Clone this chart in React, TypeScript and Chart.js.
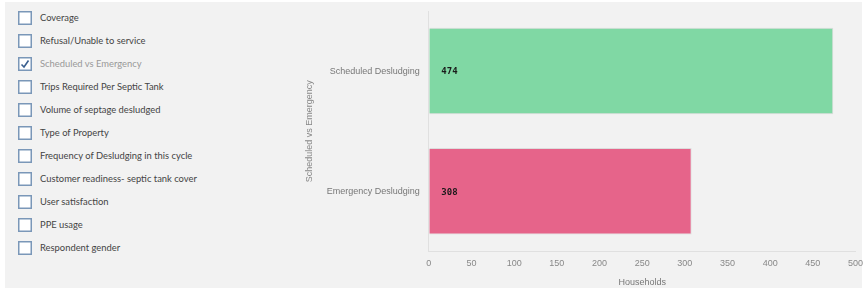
import React, { useEffect, useRef } from "react";
import { Chart, registerables } from "chart.js";

Chart.register(...registerables);

const categories = ["Scheduled Desludging", "Emergency Desludging"];
const households = [474, 308];
const barColors = ["#80d8a4", "#e6648a"];
const xTicks = [0, 50, 100, 150, 200, 250, 300, 350, 400, 450, 500];
const yAxisTitle = "Scheduled vs Emergency";
const xAxisTitle = "Households";
const menuItems = [
  "Coverage",
  "Refusal/Unable to service",
  "Scheduled vs Emergency",
  "Trips Required Per Septic Tank",
  "Volume of septage desludged",
  "Type of Property",
  "Frequency of Desludging in this cycle",
  "Customer readiness- septic tank cover",
  "User satisfaction",
  "PPE usage",
  "Respondent gender",
];
const checkedItem = "Scheduled vs Emergency";

const valueLabelPlugin = {
  id: "valueLabels",
  afterDatasetsDraw(chart: any) {
    const ctx = chart.ctx;
    const meta = chart.getDatasetMeta(0);
    ctx.save();
    ctx.font = "bold 9px 'DejaVu Sans Mono'";
    ctx.fillStyle = "#1a1a1a";
    ctx.textAlign = "left";
    ctx.textBaseline = "middle";
    meta.data.forEach((bar: any, i: number) => {
      const v = chart.data.datasets[0].data[i];
      ctx.fillText(String(v), bar.base + 12, bar.y + 1);
    });
    ctx.restore();
  },
};

const axisFont = { size: 9, family: "'Liberation Sans', Arial" };

function ChartView() {
  const ref = useRef<HTMLCanvasElement | null>(null);
  useEffect(() => {
    if (!ref.current) return;
    const chart = new Chart(ref.current, {
      type: "bar",
      data: {
        labels: categories,
        datasets: [
          {
            data: households,
            backgroundColor: barColors,
            borderColor: "#dcdcdc",
            borderWidth: 1,
          },
        ],
      },
      options: {
        indexAxis: "y",
        animation: false,
        responsive: true,
        maintainAspectRatio: false,
        layout: { padding: { top: 9, left: 0, right: 0, bottom: 0 } },
        plugins: {
          legend: { display: false },
          tooltip: { enabled: false },
        },
        scales: {
          x: {
            min: 0,
            max: 500,
            afterBuildTicks: (axis: any) => {
              axis.ticks = xTicks.map((v) => ({ value: v }));
            },
            grid: { display: true, drawOnChartArea: false, drawTicks: false },
            border: { display: true, color: "#e0e0e0" },
            ticks: {
              color: "#888",
              font: axisFont,
              padding: 7,
              maxRotation: 0,
            },
            title: {
              display: true,
              text: xAxisTitle,
              color: "#777",
              font: axisFont,
              padding: { top: 1, bottom: 0 },
            },
          },
          y: {
            grid: {
              display: true,
              drawOnChartArea: false,
              drawTicks: true,
              tickLength: 9,
              tickColor: "rgba(0,0,0,0)",
              color: "rgba(0,0,0,0)",
            },
            border: { display: true, color: "#e0e0e0" },
            ticks: {
              color: "#777",
              font: axisFont,
              padding: 0,
            },
            title: {
              display: true,
              text: yAxisTitle,
              color: "#888",
              font: axisFont,
              padding: { top: 4, bottom: 12 },
            },
          },
        },
      },
      plugins: [valueLabelPlugin],
    } as any);
    return () => chart.destroy();
  }, []);
  return <canvas ref={ref} />;
}

function CheckBox({ checked }: { checked: boolean }) {
  return (
    <svg width="14" height="14" style={{ position: "absolute", left: 0, top: 0 }}>
      <rect x="0.75" y="0.75" width="12.5" height="12.5" fill="#fff" stroke="#7a97b8" strokeWidth="1.5" />
      {checked && (
        <polyline points="3.5,7.5 6,10 10.5,3.5" fill="none" stroke="#3a5f8f" strokeWidth="1.6" />
      )}
    </svg>
  );
}

export default function App() {
  useEffect(() => {
    document.body.style.margin = "0";
  }, []);
  return (
    <div
      style={{
        position: "fixed",
        left: 5,
        top: 2,
        width: 857,
        height: 286,
        background: "#f2f2f2",
        fontFamily: "Lato, 'Noto Sans', sans-serif",
      }}
    >
      <div style={{ position: "absolute", left: 0, top: 0, width: 295, height: 286 }}>
        {menuItems.map((item, i) => (
          <div
            key={item}
            style={{
              position: "absolute",
              left: 13,
              top: 9 + i * 23,
              height: 14,
              width: 280,
            }}
          >
            <CheckBox checked={item === checkedItem} />
            <span
              style={{
                position: "absolute",
                left: 22,
                top: 0,
                lineHeight: "14px",
                fontSize: 9.4,
                color: item === checkedItem ? "#999" : "#444",
                whiteSpace: "nowrap",
              }}
            >
              {item}
            </span>
          </div>
        ))}
      </div>
      <div style={{ position: "absolute", left: 295, top: 0, width: 570, height: 286 }}>
        <ChartView />
      </div>
    </div>
  );
}
